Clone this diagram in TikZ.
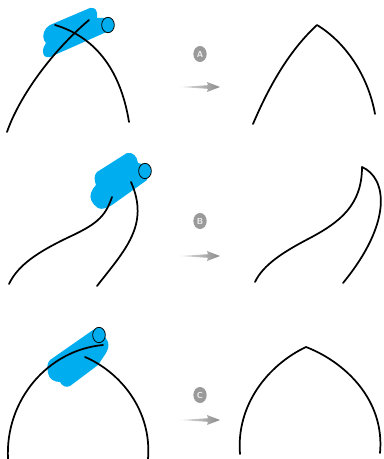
\documentclass[tikz,border=0pt]{standalone}
\usepackage{tikz}
\usetikzlibrary{arrows.meta,shapes.geometric}
\definecolor{brush}{HTML}{00AEEF}
\definecolor{badgegray}{HTML}{9A9A9A}
\tikzset{
  every picture/.style={line join=round, line cap=round, >=Stealth},
  curve/.style={line width=1.3pt, black},
  badge/.style={ellipse, fill=badgegray, text=white!85!badgegray, inner sep=0pt, minimum width=10pt, minimum height=12pt, font=\sffamily\bfseries\fontsize{6.5}{7}\selectfont},
  fadearrow/.style={left color=badgegray!25, right color=badgegray!90!black, shading angle=90},
  knob/.style={ellipse, draw=black, fill=brush, line width=0.6pt, minimum width=9.5pt, minimum height=11.5pt, inner sep=0pt},
}
\newcommand{\fadearrowto}[2]{\shade[fadearrow](#1)--++(28,-1.8)--++(-1,-3.2)--(#2)--++(-13,5)--++(1,-3.2)--cycle;}
\begin{document}
\begin{tikzpicture}[x=1pt,y=-1pt,scale=0.75]
\useasboundingbox(0,0)rectangle(383,459);
% top row
\fill[brush](44,32)..controls(45,29)and(47,27)..(50,25)--(90,8)..controls(95,7)and(98,10)..(97,18)--(105,18)--(111,30)--(50,57)..controls(46,58)and(43,56)..(43,52)..controls(43,48)and(44,46)..(46,43)..controls(43,40)and(43,36)..(44,32)--cycle;
\node[knob](knoba)at(108,25){};
\draw[curve](7,132)..controls(18,100)and(48,55)..(89,20);
\draw[curve](55,25)..controls(92,36)and(120,66)..(129,122);
\node[badge](a)at(200,54){A};
\coordinate(a1)at(180,87);
\coordinate(a2)at(220,87);
\fadearrowto{a1}{a2}
\draw[curve](253,124)..controls(270,84)and(290,50)..(317,25)..controls(345,42)and(368,75)..(375,114);
% middle row
\fill[brush](97,172)--(127,153)..controls(133,152)and(137,156)..(138,163)--(146,165)--(147,180)--(112,205)..controls(107,208)and(102,210)..(98,208)..controls(92,204)and(89,198)..(91,193)..controls(92,190)and(94,187)..(96,185)..controls(94,180)and(94,175)..(97,172)--cycle;
\node[knob](knobb)at(145,171){};
\draw[curve](9,284)..controls(18,265)and(38,252)..(67,238)..controls(95,225)and(105,218)..(112,197);
\draw[curve](97,286)..controls(125,250)and(150,225)..(131,182);
\node[badge](b)at(200,221){B};
\coordinate(b1)at(180,256);
\coordinate(b2)at(220,256);
\fadearrowto{b1}{b2}
\draw[curve](255,282)..controls(263,265)and(283,252)..(310,238)..controls(340,222)and(362,205)..(362,167)..controls(387,178)and(393,222)..(343,283);
% bottom row
\fill[brush](50,360)--(93,330)--(100,328)--(108,342)..controls(109,347)and(108,350)..(106,353)--(98,365)--(70,386)..controls(66,388)and(62,386)..(60,382)..controls(54,382)and(49,379)..(48,373)..controls(47,368)and(47,363)..(50,360)--cycle;
\node[knob](knobc)at(99,335){};
\draw[curve](8,459)..controls(5,400)and(48,350)..(103,345);
\draw[curve](85,357)..controls(120,372)and(152,410)..(148,459);
\node[badge](c)at(200,395){C};
\coordinate(c1)at(180,420);
\coordinate(c2)at(220,420);
\fadearrowto{c1}{c2}
\draw[curve](240,454)..controls(236,405)and(268,365)..(306,347)..controls(345,362)and(385,400)..(380,453);
\end{tikzpicture}
\end{document}
